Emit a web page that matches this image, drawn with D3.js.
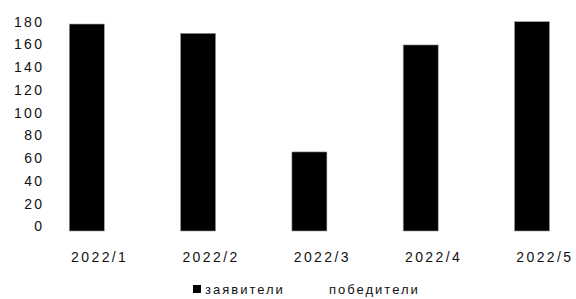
<!DOCTYPE html>
<html>
<head>
<meta charset="utf-8">
<script src="https://cdn.jsdelivr.net/npm/d3@7"></script>
<style>
  body { margin: 0; background: #fff; }
  text { font-family: "Liberation Sans", Arial, sans-serif; fill: #111; }
</style>
</head>
<body>
<div id="chart"></div>
<script>
const categories = ["2022/1", "2022/2", "2022/3", "2022/4", "2022/5"];
const seriesNames = ["заявители", "победители"];
const applicants = [178, 170, 68, 160, 180];
const winners = [0, 0, 0, 0, 0];
const yTicks = [0, 20, 40, 60, 80, 100, 120, 140, 160, 180];

const width = 576;
const height = 299;

const svg = d3.select("#chart").append("svg")
  .attr("width", width)
  .attr("height", height);

const x = d3.scaleBand()
  .domain(categories)
  .range([48.65, 605.15]);

const xs = d3.scaleBand()
  .domain(seriesNames)
  .range([0, x.bandwidth()])
  .paddingOuter(0.59);

const y = d3.scaleLinear().domain([0, 180]).range([231, 21.7]);
// tick labels sit slightly compressed against the bars in the original
const yLabel = d3.scaleLinear().domain([0, 180]).range([226.5, 21.7]);

const colors = ["#000", "#fff"];
const rows = categories.map((c, i) => ({ cat: c, values: [applicants[i], winners[i]] }));

svg.append("g")
  .selectAll("g")
  .data(rows)
  .join("g")
  .attr("transform", d => `translate(${x(d.cat)},0)`)
  .selectAll("rect")
  .data(d => d.values.map((v, j) => ({ key: seriesNames[j], v, j })))
  .join("rect")
  .attr("x", d => xs(d.key))
  .attr("width", xs.bandwidth())
  .attr("y", d => y(d.v))
  .attr("height", d => y(0) - y(d.v))
  .attr("fill", d => colors[d.j])
  .attr("stroke", d => d.j === 0 ? "#999" : "none")
  .attr("stroke-width", 0.6);

// y axis labels only
const yAxis = svg.append("g")
  .attr("transform", "translate(44.5,0)")
  .call(d3.axisLeft(yLabel).tickValues(yTicks).tickSize(0).tickPadding(0));
yAxis.select(".domain").remove();
yAxis.selectAll("text")
  .attr("font-size", 14)
  .attr("letter-spacing", "2.4px")
  .attr("fill", "#111")
  .attr("font-family", "Liberation Sans, Arial, sans-serif");

// x axis labels
const xAxis = svg.append("g")
  .attr("transform", "translate(-4.6,252)")
  .call(d3.axisBottom(x).tickSize(0).tickPadding(0));
xAxis.select(".domain").remove();
xAxis.selectAll("text")
  .attr("font-size", 14)
  .attr("letter-spacing", "2.4px")
  .attr("fill", "#111")
  .attr("font-family", "Liberation Sans, Arial, sans-serif");

// legend
const legend = svg.append("g").attr("transform", "translate(193,285)");
const legendX = d3.scalePoint().domain(seriesNames).range([0, 124]);
const item = legend.selectAll("g")
  .data(seriesNames)
  .join("g")
  .attr("transform", d => `translate(${legendX(d)},0)`);
item.append("rect")
  .attr("width", 8)
  .attr("height", 8)
  .attr("fill", (d, i) => colors[i]);
item.append("text")
  .attr("x", 12)
  .attr("y", 8.5)
  .attr("font-size", 13)
  .attr("letter-spacing", "2px")
  .text(d => d);
</script>
</body>
</html>
